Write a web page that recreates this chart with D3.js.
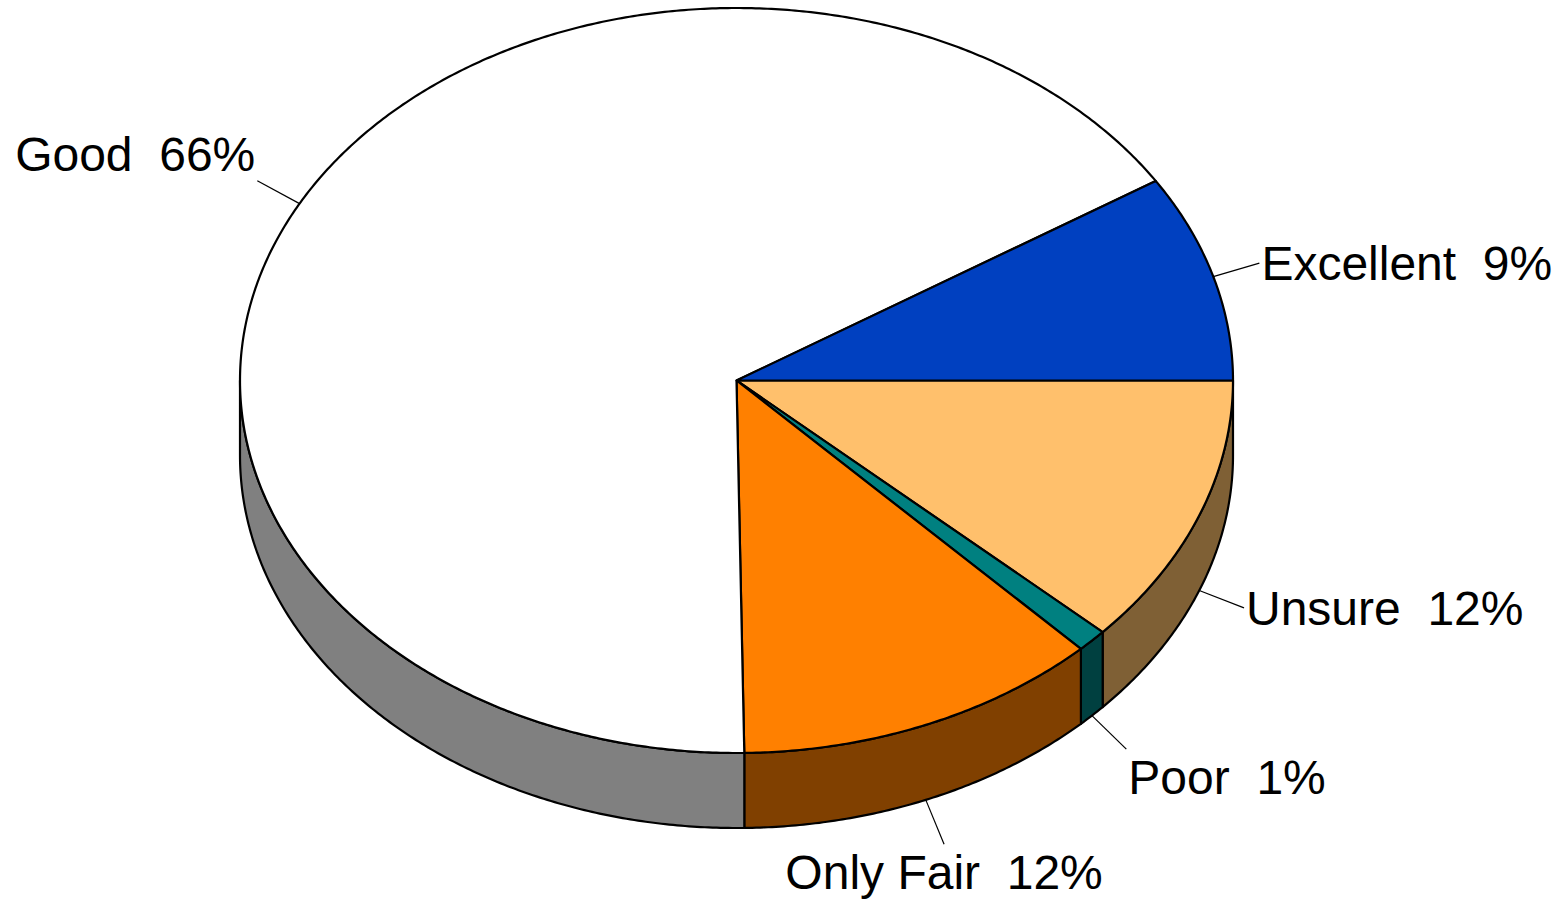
<!doctype html>
<html lang=en>
<head>
<meta charset=utf-8>
<title>3D Pie</title>
<script src="https://d3js.org/d3.v7.min.js"></script>
<style>
  body { margin: 0; background: #fff; }
  text { font-family: "Liberation Sans", Arial, sans-serif; font-size: 48px; fill: #000; white-space: pre; }
</style>
</head>
<body>
<div id="container"></div>
<script>
    // data, clockwise from 3 o'clock
    var categories = ["Unsure", "Poor", "Only Fair", "Good", "Excellent"];
    var values = [11.8, 1.0, 11.95, 66.25, 9.0];
    var topColors = ["#FFC06C", "#008080", "#FF8000", "#FFFFFF", "#0040C0"];
    var sideColors = ["#7F6035", "#004040", "#804000", "#808080", "#002060"];

    var w = 1566, h = 901;
    var cx = 736.5, cy = 380.5, rx = 496.5, ry = 372.5, depth = 75;

    var svg = d3.select("#container").append("svg")
        .attr("width", w).attr("height", h);

    var pie = d3.pie().sort(null).value(function(d) { return d; })
        .startAngle(Math.PI / 2).endAngle(Math.PI / 2 + 2 * Math.PI);
    var arcs = pie(values);

    function pt(a, dz) {
        return [cx + rx * Math.sin(a), cy - ry * Math.cos(a) + dz];
    }
    function arcPts(a0, a1, dz) {
        var n = Math.max(2, Math.ceil(Math.abs(a1 - a0) / 0.008));
        var out = [];
        for (var i = 0; i <= n; i++) out.push(pt(a0 + (a1 - a0) * i / n, dz));
        return out;
    }
    var line = d3.line();

    // sides (front half only)
    arcs.forEach(function(d, i) {
        var a0 = Math.max(d.startAngle, Math.PI / 2);
        var a1 = Math.min(d.endAngle, 3 * Math.PI / 2);
        if (a1 <= a0) return;
        var p = arcPts(a0, a1, 0).concat(arcPts(a1, a0, depth));
        svg.append("path")
            .attr("d", line(p) + "Z")
            .attr("fill", sideColors[i])
            .attr("stroke", "#000").attr("stroke-width", 2.2)
            .attr("stroke-linejoin", "round");
    });

    // top faces
    arcs.forEach(function(d, i) {
        var p = [[cx, cy]].concat(arcPts(d.startAngle, d.endAngle, 0));
        svg.append("path")
            .attr("d", line(p) + "Z")
            .attr("fill", topColors[i])
            .attr("stroke", "#000").attr("stroke-width", 2.2)
            .attr("stroke-linejoin", "round");
    });

    // leader lines + labels
    arcs.forEach(function(d, i) {
        var m = (d.startAngle + d.endAngle) / 2;
        var dx = Math.sin(m), dy = -Math.cos(m);
        var s = pt(m, dy > 0 ? depth : 0);
        var e = [s[0] + 48 * dx, s[1] + 48 * dy];
        svg.append("line")
            .attr("x1", s[0]).attr("y1", s[1])
            .attr("x2", e[0]).attr("y2", e[1])
            .attr("stroke", "#000").attr("stroke-width", 1.2);

        var anchor = dx > 0.5 ? "start" : (dx < -0.5 ? "end" : "middle");
        var tx = e[0] + (anchor == "start" ? 2 : (anchor == "end" ? -2 : 0));
        var ty = e[1];                 // cap middle of the text
        if (dy > 0.5) ty += 28;
        else if (dy < -0.4) ty -= 27;
        svg.append("text")
            .attr("x", tx).attr("y", ty + 17)
            .attr("text-anchor", anchor)
            .text(categories[i] + "  " + Math.round(values[i]) + "%");
    });
</script>
</body>
</html>
